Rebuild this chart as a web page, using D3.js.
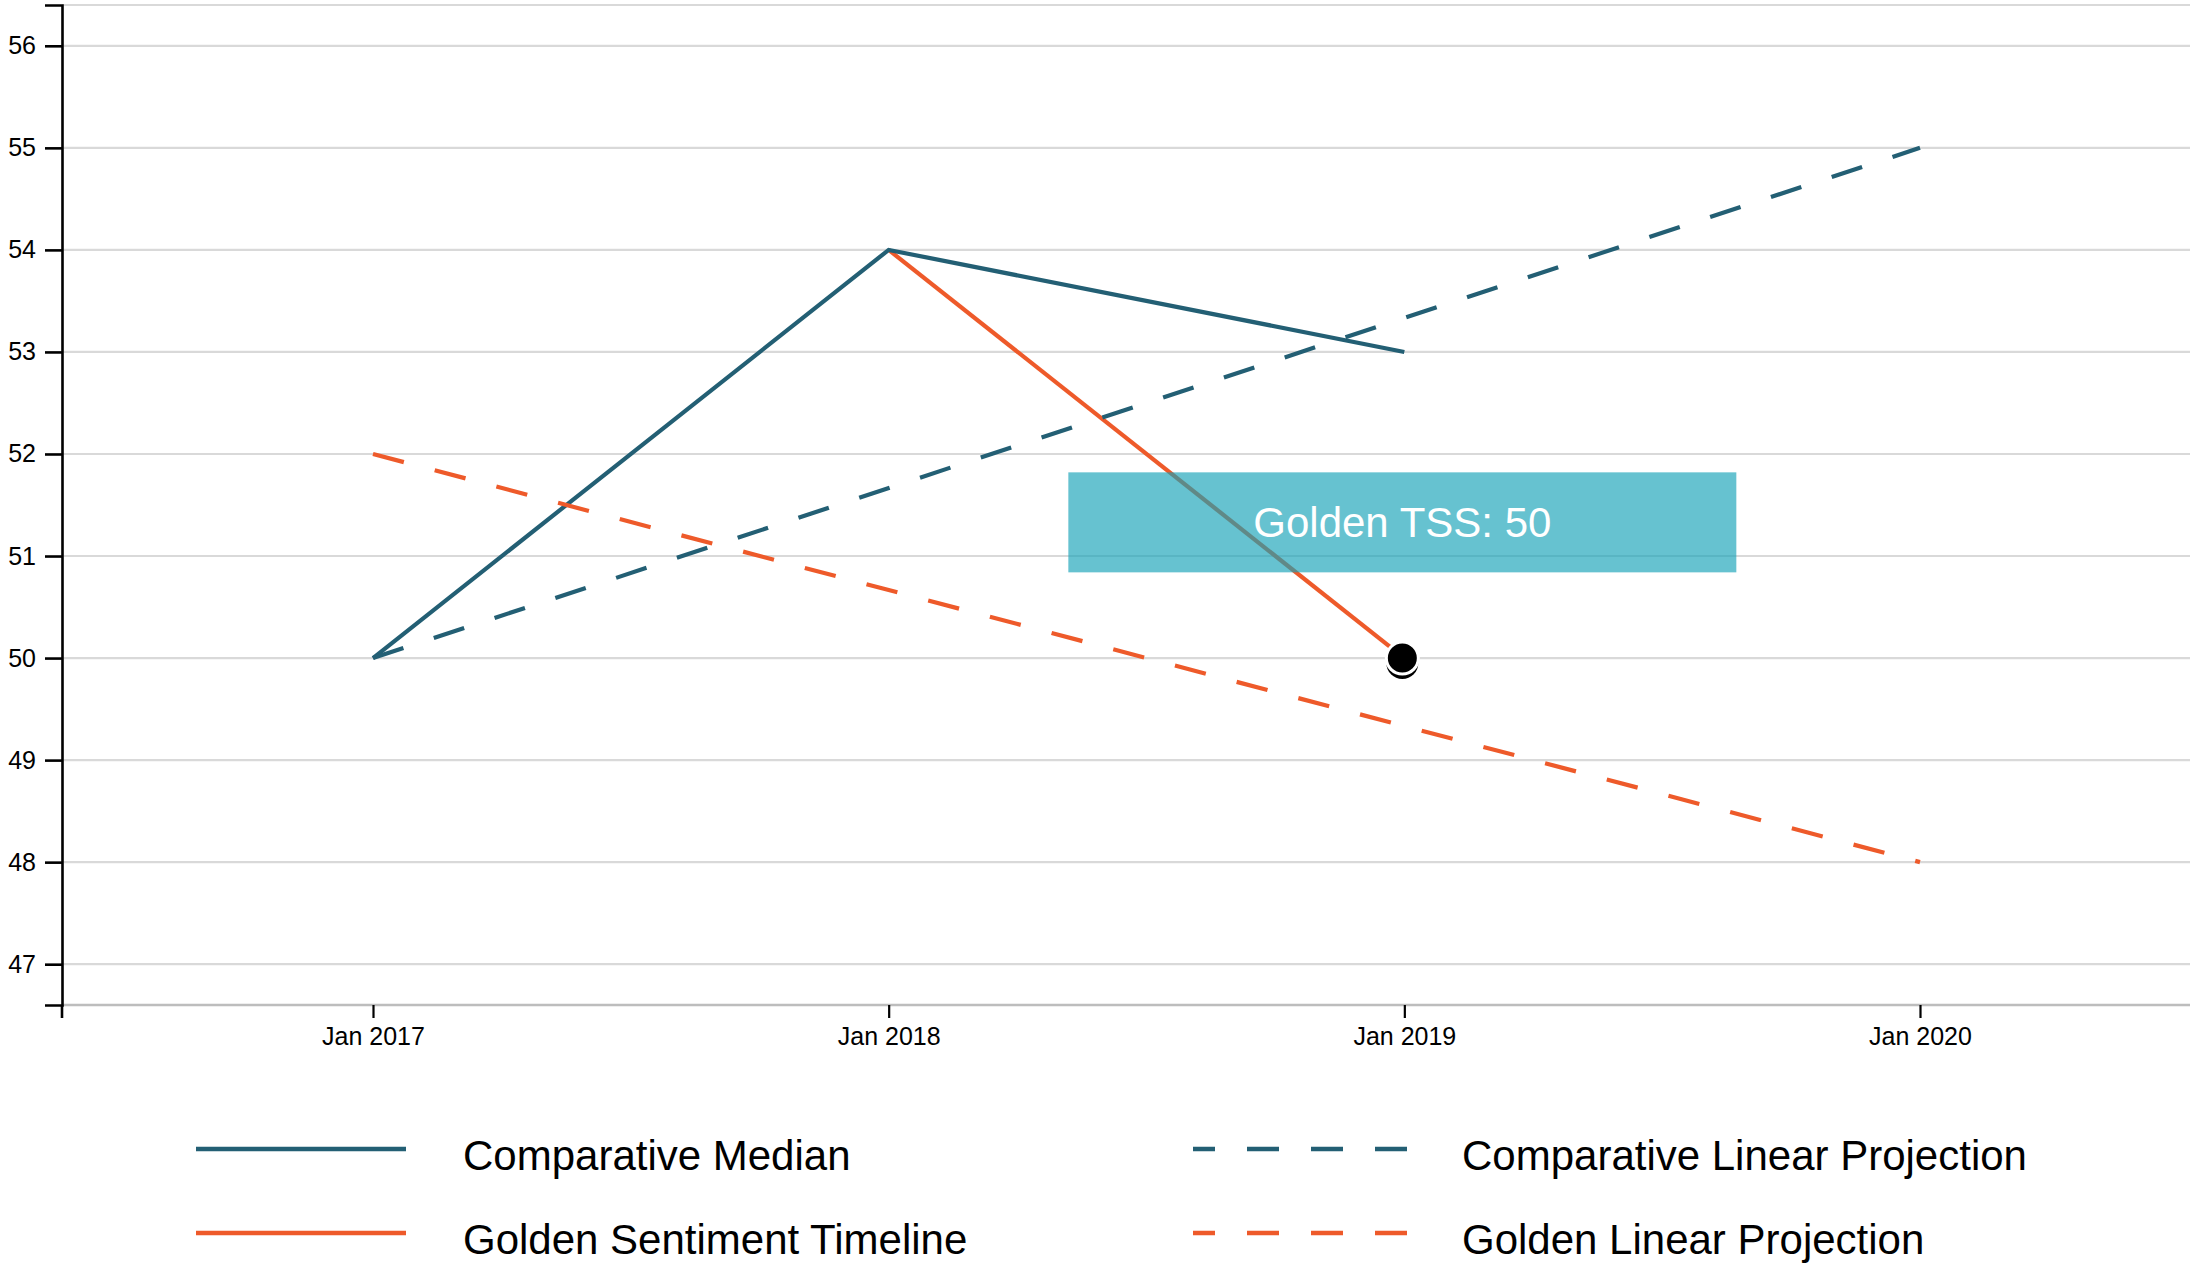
<!DOCTYPE html>
<html>
<head>
<meta charset="utf-8">
<script src="https://cdn.jsdelivr.net/npm/d3@7"></script>
<style>
  html, body { margin: 0; padding: 0; background: #fff; overflow: hidden; }
  svg { display: block; font-family: "Liberation Sans", Arial, Helvetica, sans-serif; }
</style>
</head>
<body>
<svg id="chart" width="2190" height="1264"></svg>
<script>
// ---------- data ----------
const comparativeMedianDates = ["2017-01-01", "2018-01-01", "2019-01-01"];
const comparativeMedianValues = [50, 54, 53];

const goldenTimelineDates = ["2018-01-01", "2019-01-01"];
const goldenTimelineValues = [54, 50];

const comparativeProjectionDates = ["2017-01-01", "2020-01-01"];
const comparativeProjectionValues = [50, 55];

const goldenProjectionDates = ["2017-01-01", "2020-01-01"];
const goldenProjectionValues = [52, 48];

const markerDate = "2019-01-01";
const markerValue = 50;
const annotationText = "Golden TSS: 50";

const xTickDates = ["2017-01-01", "2018-01-01", "2019-01-01", "2020-01-01"];
const yDomain = [46.6, 56.4];

const legendNames = ["Comparative Median", "Golden Sentiment Timeline", "Comparative Linear Projection", "Golden Linear Projection"];

// ---------- setup ----------
const W = 2190, H = 1264;
const teal = "#235f74", orange = "#ee5a2a";
const parse = d3.utcParse("%Y-%m-%d");
const svg = d3.select("#chart");

const plotLeft = 62, plotTop = 5, plotBottom = 1005, plotRight = W;
const x = d3.scaleUtc()
  .domain([parse(xTickDates[0]), parse(xTickDates[xTickDates.length - 1])])
  .range([373, 1920]);
const y = d3.scaleLinear().domain(yDomain).range([plotBottom, plotTop]);

const zip = (ds, vs) => ds.map((d, i) => ({ date: parse(d), value: vs[i] }));
const line = d3.line().x(d => x(d.date)).y(d => y(d.value));

// gridlines
const yTicks = y.ticks(10);
svg.append("g").selectAll("line")
  .data(yTicks.concat([yDomain[1]]))
  .join("line")
  .attr("x1", plotLeft).attr("x2", plotRight)
  .attr("y1", d => y(d)).attr("y2", d => y(d))
  .attr("stroke", "#d9d9d9").attr("stroke-width", 2.2);

// x axis
const xAxisG = svg.append("g").attr("transform", `translate(0,${plotBottom})`);
xAxisG.append("line")
  .attr("x1", plotLeft).attr("x2", plotRight).attr("y1", 0).attr("y2", 0)
  .attr("stroke", "#bdbdbd").attr("stroke-width", 2.5);
const xAxis = d3.axisBottom(x)
  .tickValues(xTickDates.map(parse))
  .tickFormat(d3.utcFormat("Jan %Y"))
  .tickSize(13).tickSizeOuter(0).tickPadding(9);
const xa = xAxisG.append("g").call(xAxis);
xa.select(".domain").remove();
xa.selectAll(".tick line").attr("stroke", "#000").attr("stroke-width", 2.2);
xa.selectAll(".tick text").attr("font-size", 25).attr("fill", "#000")
  .attr("font-family", "Liberation Sans, Arial, sans-serif");

// y axis
const yAxis = d3.axisLeft(y).ticks(10).tickFormat(d3.format("d"))
  .tickSize(17).tickSizeOuter(17).tickPadding(9);
const ya = svg.append("g").attr("transform", `translate(${plotLeft},0)`).call(yAxis);
ya.select(".domain").attr("stroke", "#000").attr("stroke-width", 2.6);
ya.selectAll(".tick line").attr("stroke", "#000").attr("stroke-width", 2.6);
ya.selectAll(".tick text").attr("font-size", 25).attr("fill", "#000")
  .attr("font-family", "Liberation Sans, Arial, sans-serif");
svg.append("line").attr("x1", plotLeft).attr("x2", plotLeft)
  .attr("y1", plotBottom).attr("y2", plotBottom + 13)
  .attr("stroke", "#000").attr("stroke-width", 2.6);

// series lines
const lines = svg.append("g").attr("fill", "none").attr("stroke-width", 4.2);
lines.append("path").datum(zip(goldenTimelineDates, goldenTimelineValues))
  .attr("d", line).attr("stroke", orange);
lines.append("path").datum(zip(comparativeMedianDates, comparativeMedianValues))
  .attr("d", line).attr("stroke", teal);
lines.append("path").datum(zip(comparativeProjectionDates, comparativeProjectionValues))
  .attr("d", line).attr("stroke", teal).attr("stroke-dasharray", "32,32");
lines.append("path").datum(zip(goldenProjectionDates, goldenProjectionValues))
  .attr("d", line).attr("stroke", orange).attr("stroke-dasharray", "31.9,31.9");

// annotation box
const mx = x(parse(markerDate)), my = y(markerValue);
const boxW = 668, boxH = 100;
const boxCy = y(51.82) + boxH / 2;
svg.append("rect")
  .attr("x", mx - boxW / 2 - 2).attr("y", y(51.82))
  .attr("width", boxW).attr("height", boxH)
  .attr("fill", "#17a2b8").attr("opacity", 0.66);
svg.append("text")
  .attr("x", mx - 2).attr("y", boxCy)
  .attr("text-anchor", "middle").attr("dy", "0.35em")
  .attr("font-size", 42).attr("fill", "#fff")
  .text(annotationText);

// marker
svg.append("circle").attr("cx", mx - 2).attr("cy", my + 5).attr("r", 16).attr("fill", "#000");
svg.append("circle").attr("cx", mx - 2).attr("cy", my).attr("r", 16)
  .attr("fill", "#000").attr("stroke", "#fff").attr("stroke-width", 3);

// legend
const legendItems = [
  { name: legendNames[0], color: teal, dash: null, lx1: 196, lx2: 406, tx: 463, ly: 1149 },
  { name: legendNames[1], color: orange, dash: null, lx1: 196, lx2: 406, tx: 463, ly: 1233 },
  { name: legendNames[2], color: teal, dash: "32,32", lx1: 1193, lx2: 1407, tx: 1462, ly: 1149 },
  { name: legendNames[3], color: orange, dash: "32,32", lx1: 1193, lx2: 1407, tx: 1462, ly: 1233 }
];
const lg = svg.append("g").selectAll("g").data(legendItems).join("g");
lg.append("line")
  .attr("x1", d => d.lx2).attr("x2", d => d.lx1)
  .attr("y1", d => d.ly).attr("y2", d => d.ly)
  .attr("stroke", d => d.color).attr("stroke-width", 4.5)
  .attr("stroke-dasharray", d => d.dash);
lg.append("text")
  .attr("x", d => d.tx).attr("y", d => d.ly + 6)
  .attr("dy", "0.35em").attr("font-size", 42).attr("fill", "#000")
  .text(d => d.name);
</script>
</body>
</html>
